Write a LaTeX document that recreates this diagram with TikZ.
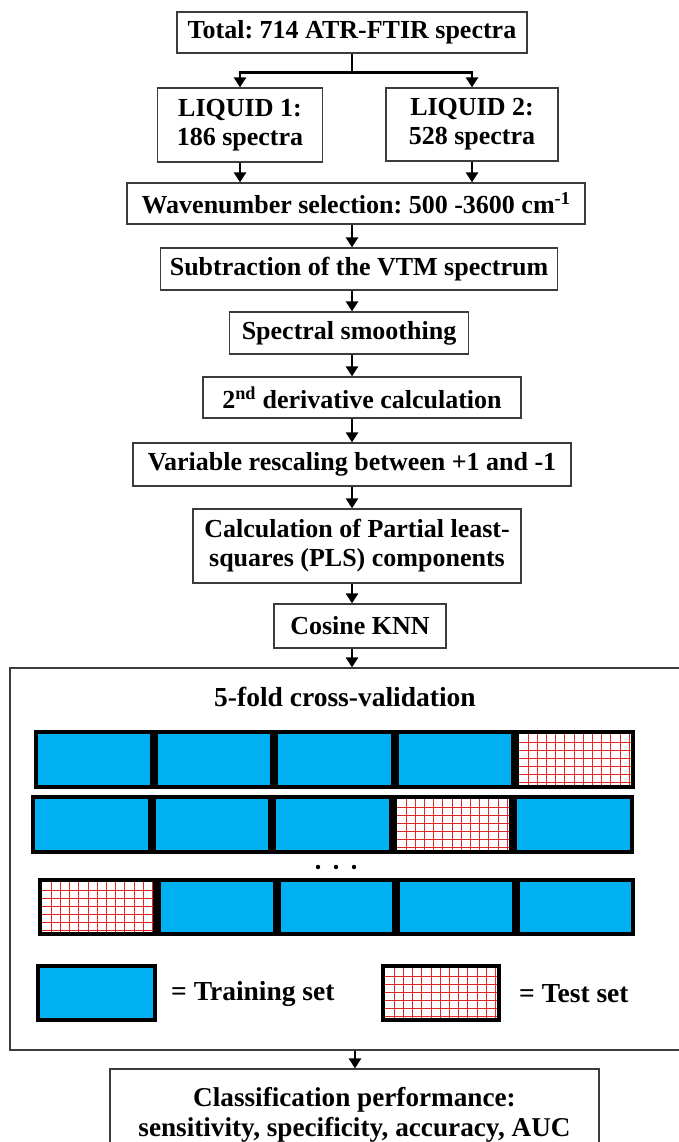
\documentclass[tikz,border=0pt]{standalone}
\usepackage{fontspec}
\setmainfont{Liberation Serif}
\usetikzlibrary{arrows.meta}
\definecolor{trainblue}{HTML}{00B0F0}
\definecolor{gridred}{HTML}{E02828}
\definecolor{boxgray}{HTML}{3C3C3C}
\frenchspacing

\newcommand{\testcell}[4]{%
  \fill[white] (#1,#2) rectangle (#3,#4);
  \begin{scope}
    \clip (#1,#2) rectangle (#3,#4);
    \foreach \k in {1,...,14}{\draw[gridred,line width=1pt] ({#1+\k*9.2},{#2}) -- ({#1+\k*9.2},{#4});}
    \foreach \k in {1,...,7}{\draw[gridred,line width=1pt] ({#1},{#2+\k*8}) -- ({#3},{#2+\k*8});}
  \end{scope}}

\newcommand{\cvrow}[5]{%
  \fill[black] (#1,#2) rectangle (#3,#4);
  \pgfmathsetmacro{\cw}{(#3-#1-40)/5}
  \foreach \i in {0,...,4}{%
    \pgfmathsetmacro{\cxa}{#1+4+\i*(\cw+8)}
    \pgfmathsetmacro{\cxb}{\cxa+\cw}
    \ifnum\i=#5\relax
      \testcell{\cxa}{#2+4}{\cxb}{#4-4}
    \else
      \fill[trainblue] (\cxa,{#2+4}) rectangle (\cxb,{#4-4});
    \fi}}

\begin{document}
\begin{tikzpicture}[x=1pt,y=-1pt,
  every node/.style={font=\fontsize{26}{29}\selectfont\bfseries},
  big/.style={font=\fontsize{27.5}{29}\selectfont\bfseries},
  box/.style={draw=boxgray,line width=1.2pt,fill=white,inner sep=0pt,align=center},
  conn/.style={line width=2.8pt,black},
  arr/.style={conn,-{Triangle[width=12pt,length=10pt]}}]
\useasboundingbox (0,0) rectangle (679,1142);
\clip (0,0) rectangle (679,1142);
\fill[white] (0,0) rectangle (679,1142);

\coordinate (spine) at (352,0);
\coordinate (split) at (352,72.5);

\node[box,minimum width=350,minimum height=41] (top) at (352,32.5) {Total: 714 ATR-FTIR spectra};
\node[box,minimum width=165,minimum height=74] (l1) at (240,125) {LIQUID 1:\\186 spectra};
\node[box,minimum width=172,minimum height=73] (l2) at (472,124.5) {LIQUID 2:\\528 spectra};
\node[box,minimum width=458,minimum height=41] (wav) at (356,203.5) {Wavenumber selection: 500 -3600 cm\textsuperscript{-1}};
\node[box,minimum width=397,minimum height=42] (sub) at (359,269) {Subtraction of the VTM spectrum};
\node[box,minimum width=239,minimum height=42] (smo) at (349,333) {Spectral smoothing};
\node[box,minimum width=318,minimum height=41] (der) at (362,397.5) {2\textsuperscript{nd} derivative calculation};
\node[box,minimum width=438,minimum height=43] (res) at (352,464.5) {Variable rescaling between +1 and -1};
\node[box,minimum width=328,minimum height=74] (pls) at (357,546) {Calculation of Partial least-\\squares (PLS) components};
\node[box,minimum width=172,minimum height=44] (knn) at (360,626) {Cosine KNN};
\node[box,minimum width=690,minimum height=382] (cv) at (355,859) {};
\node[box,font=\fontsize{27.2}{29.5}\selectfont\bfseries,minimum width=489,minimum height=92] (cls) at (354.5,1115) {Classification performance:\\sensitivity, specificity, accuracy, AUC};

\node[big] (cvtitle) at (345,697) {5-fold cross-validation};

% split
\draw[conn] (top.south -| split) -- (split);
\draw[arr] (split) -| (l1.north);
\draw[arr] (split) -| (l2.north);
\draw[arr] (l1.south) -- (l1.south |- wav.north);
\draw[arr] (l2.south) -- (l2.south |- wav.north);
\draw[arr] (wav.south -| spine) -- (sub.north -| spine);
\draw[arr] (sub.south -| spine) -- (smo.north -| spine);
\draw[arr] (smo.south -| spine) -- (der.north -| spine);
\draw[arr] (der.south -| spine) -- (res.north -| spine);
\draw[arr] (res.south -| spine) -- (pls.north -| spine);
\draw[arr] (pls.south -| spine) -- (knn.north -| spine);
\draw[arr] (knn.south -| spine) -- (cv.north -| spine);
\coordinate (spine2) at (355,0);
\draw[arr] (cv.south -| spine2) -- (cls.north -| spine2);

% folds
\cvrow{34}{730}{635}{789}{4}
\cvrow{31}{795}{634}{854}{3}
\foreach \dx in {318,336,354}{\fill[black] (\dx,867) circle (2.2);}
\cvrow{38}{878}{635}{936}{0}

% legend
\fill[black] (36,964) rectangle (157,1022);
\fill[trainblue] (40,968) rectangle (153,1018);
\fill[black] (381,964) rectangle (501,1022);
\testcell{385}{968}{497}{1018}
\node[big,anchor=west,inner sep=0pt] (trainlbl) at (171,994) {= Training set};
\node[big,anchor=west,inner sep=0pt] (testlbl) at (519,994) {= Test set};
\end{tikzpicture}
\end{document}
